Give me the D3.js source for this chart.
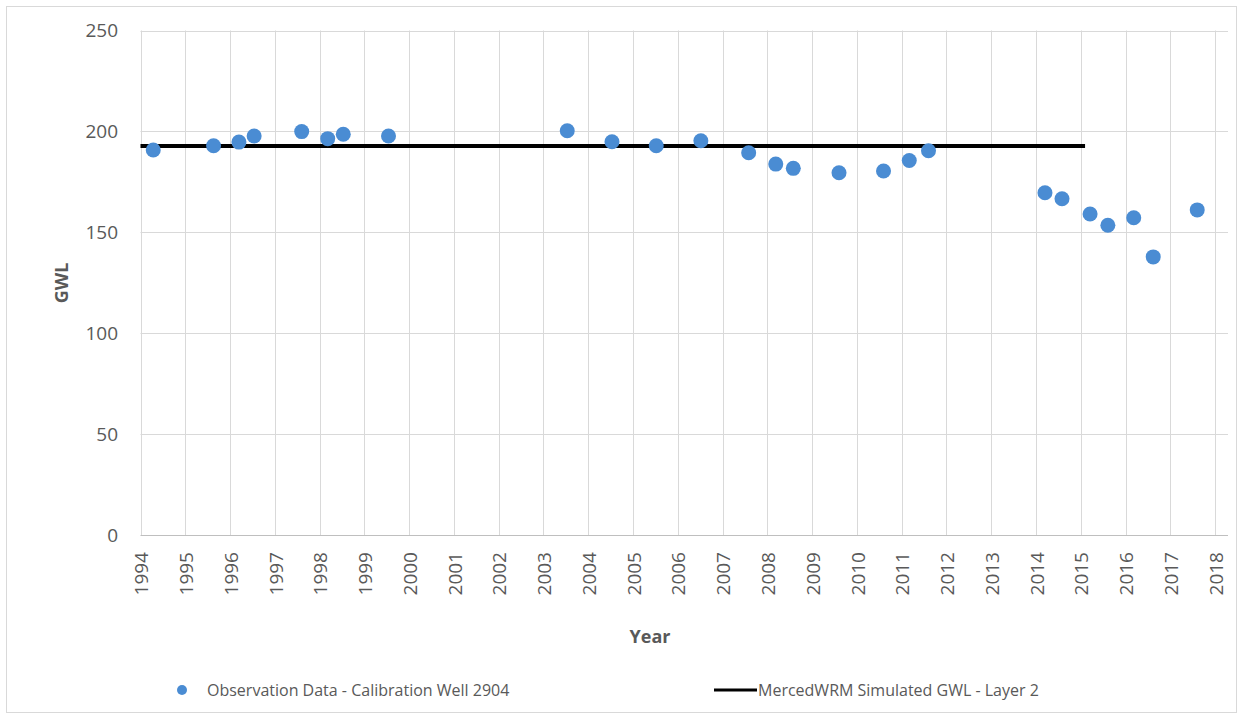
<!DOCTYPE html>
<html>
<head>
<meta charset="utf-8">
<script src="https://cdn.jsdelivr.net/npm/d3@7"></script>
<style>
  body { margin: 0; background: #fff; }
  svg { display: block; font-family: "Open Sans", sans-serif; }
</style>
</head>
<body>
<div id="chart-container"></div>
<script>
// observation dates and GWL values
const obsDates = ["1994-04-15", "1995-08-20", "1996-03-14", "1996-07-16", "1997-08-08", "1998-03-08",
    "1998-07-13", "1999-07-17", "2003-07-14", "2004-07-13", "2005-07-09", "2006-07-08", "2007-08-02",
    "2008-03-10", "2008-07-31", "2009-08-08", "2010-08-06", "2011-03-04", "2011-08-08", "2014-03-15",
    "2014-08-01", "2015-03-18", "2015-08-10", "2016-03-08", "2016-08-14", "2017-08-08"];
const obsValues = [190.8, 192.9, 194.7, 197.7, 199.9, 196.4, 198.6, 197.7, 200.3, 194.9, 192.9, 195.4, 189.4,
    183.8, 181.7, 179.5, 180.4, 185.6, 190.4, 169.6, 166.6, 159.1, 153.5, 157.2, 137.8, 161.1];

const simDates = ["1994-01-01", "2015-02-05"];
const simValues = [192.8, 192.8];

const yTicks = [0, 50, 100, 150, 200, 250];
const xTickYears = d3.range(1994, 2019);

const seriesNames = ["Observation Data - Calibration Well 2904", "MercedWRM Simulated GWL - Layer 2"];

const width = 1243;
const height = 719;
const margin = { left: 140.5, right: 1228, top: 30.5, bottom: 535 };

const parse = d3.timeParse("%Y-%m-%d");

const x = d3.scaleTime()
    .domain([new Date(1994, 0, 1), new Date(2018, 3, 16)])
    .range([margin.left, margin.right]);

const y = d3.scaleLinear()
    .domain([0, 250])
    .range([margin.bottom, margin.top]);

const svg = d3.select("#chart-container")
    .append("svg")
    .attr("width", width)
    .attr("height", height);

// outer chart border
svg.append("rect")
    .attr("x", 6.5)
    .attr("y", 6.5)
    .attr("width", 1230)
    .attr("height", 706)
    .attr("fill", "#fff")
    .attr("stroke", "#d9d9d9");

// horizontal gridlines
svg.append("g")
    .selectAll("line")
    .data(yTicks.filter(d => d > 0))
    .enter()
    .append("line")
    .attr("x1", margin.left)
    .attr("x2", margin.right)
    .attr("y1", d => Math.round(y(d)) + 0.5)
    .attr("y2", d => Math.round(y(d)) + 0.5)
    .attr("stroke", "#d9d9d9");

// vertical gridlines
const xTickDates = xTickYears.map(yr => new Date(yr, 0, 1));
svg.append("g")
    .selectAll("line")
    .data(xTickDates)
    .enter()
    .append("line")
    .attr("x1", d => Math.round(x(d)) + 0.5)
    .attr("x2", d => Math.round(x(d)) + 0.5)
    .attr("y1", margin.top)
    .attr("y2", margin.bottom)
    .attr("stroke", "#d9d9d9");

// x axis line
svg.append("line")
    .attr("x1", margin.left)
    .attr("x2", margin.right)
    .attr("y1", margin.bottom + 0.5)
    .attr("y2", margin.bottom + 0.5)
    .attr("stroke", "#bfbfbf");

// y tick labels
svg.append("g")
    .selectAll("text")
    .data(yTicks)
    .enter()
    .append("text")
    .attr("x", 118)
    .attr("y", d => y(d))
    .attr("dy", "0.35em")
    .attr("text-anchor", "end")
    .attr("fill", "#595959")
    .style("font-size", "19px")
    .text(d => d);

// x tick labels (rotated)
svg.append("g")
    .selectAll("text")
    .data(xTickDates)
    .enter()
    .append("text")
    .attr("transform", d => `translate(${x(d) + 1},552) rotate(-90)`)
    .attr("dy", "0.35em")
    .attr("text-anchor", "end")
    .attr("fill", "#595959")
    .style("font-size", "19px")
    .text(d => d.getFullYear());

// axis titles
svg.append("text")
    .attr("x", 650)
    .attr("y", 643)
    .attr("text-anchor", "middle")
    .attr("fill", "#595959")
    .style("font-size", "18px")
    .style("font-weight", "bold")
    .text("Year");

svg.append("text")
    .attr("transform", "translate(62,283) rotate(-90)")
    .attr("dy", "0.35em")
    .attr("text-anchor", "middle")
    .attr("fill", "#595959")
    .style("font-size", "18px")
    .style("font-weight", "bold")
    .text("GWL");

// simulated line
const line = d3.line()
    .x(d => x(d.date))
    .y(d => y(d.value));

const simData = simDates.map((d, i) => ({ date: parse(d), value: simValues[i] }));
svg.append("path")
    .datum(simData)
    .attr("d", line)
    .attr("fill", "none")
    .attr("stroke", "#000")
    .attr("stroke-width", 4);

// observation points
const obsData = obsDates.map((d, i) => ({ date: parse(d), value: obsValues[i] }));
svg.append("g")
    .selectAll("circle")
    .data(obsData)
    .enter()
    .append("circle")
    .attr("cx", d => x(d.date))
    .attr("cy", d => y(d.value))
    .attr("r", 7.5)
    .attr("fill", "#4a8cd3");

// legend
const legend = svg.append("g");
legend.append("circle")
    .attr("cx", 182)
    .attr("cy", 690)
    .attr("r", 5)
    .attr("fill", "#4a8cd3");
legend.append("text")
    .attr("x", 207)
    .attr("y", 690)
    .attr("dy", "0.35em")
    .attr("fill", "#595959")
    .style("font-size", "16px")
    .text(seriesNames[0]);

legend.append("line")
    .attr("x1", 714)
    .attr("x2", 757)
    .attr("y1", 690)
    .attr("y2", 690)
    .attr("stroke", "#000")
    .attr("stroke-width", 3);
legend.append("text")
    .attr("x", 758)
    .attr("y", 690)
    .attr("dy", "0.35em")
    .attr("fill", "#595959")
    .style("font-size", "16px")
    .text(seriesNames[1]);
</script>
</body>
</html>
